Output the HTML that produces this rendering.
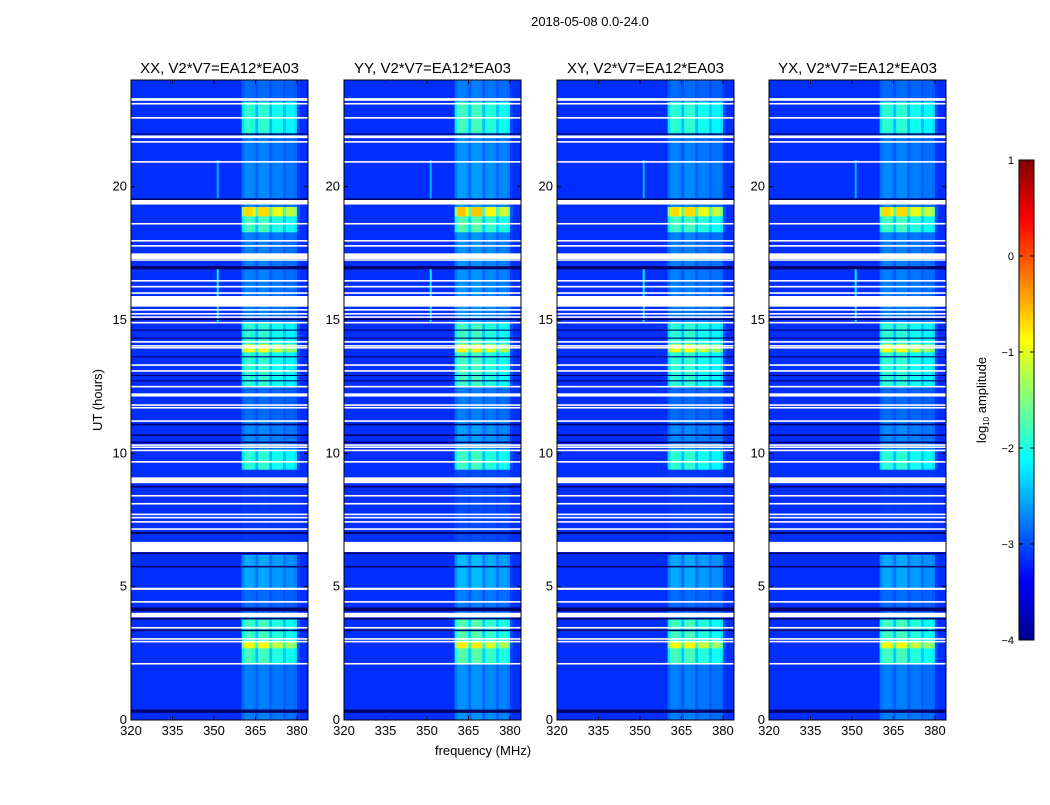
<!DOCTYPE html>
<html><head><meta charset="utf-8">
<style>
body{margin:0;background:#fff;}
svg text{font-family:"Liberation Sans",sans-serif;fill:#000;}
</style></head>
<body>
<svg id="fig" width="1050" height="800" xmlns="http://www.w3.org/2000/svg">
<rect width="1050" height="800" fill="#fff"/>
<text x="590" y="26" font-size="13" text-anchor="middle">2018-05-08 0.0-24.0</text>
<text transform="translate(102,400) rotate(-90)" font-size="13" text-anchor="middle">UT (hours)</text>
<text x="483" y="755" font-size="13" text-anchor="middle">frequency (MHz)</text>
<g id="panels"></g>
<defs>
<linearGradient id="jetgrad" x1="0" y1="1" x2="0" y2="0">
<stop offset="0" stop-color="#00008f"/><stop offset="0.125" stop-color="#0000ff"/>
<stop offset="0.375" stop-color="#00ffff"/><stop offset="0.625" stop-color="#ffff00"/>
<stop offset="0.875" stop-color="#ff0000"/><stop offset="1" stop-color="#800000"/>
</linearGradient>
</defs>
<g>
<rect x="1019" y="160" width="15" height="480" fill="url(#jetgrad)" stroke="#000" stroke-width="1"/>
<g id="cbticks"></g>
<text transform="translate(986,400) rotate(-90)" font-size="13" text-anchor="middle">log<tspan font-size="8" dy="3">10</tspan><tspan dy="-3"> amplitude</tspan></text>
</g>
</svg>
<script>
// ---- data ----
const panelTitles = ["XX, V2*V7=EA12*EA03","YY, V2*V7=EA12*EA03","XY, V2*V7=EA12*EA03","YX, V2*V7=EA12*EA03"];
const panelOffsets = [0, 0.1, 0, 0];
const xTicks = [320,335,350,365,380];
const yTicks = [0,5,10,15,20];
const cbTicks = [1,0,-1,-2,-3,-4];
const baseLevel = -3.15;
// band level segments: [startHour, endHour, log10 level]
const segStart = [0,2.1,2.7,2.95,3.8,4.9,6.2,9.4,10.1,11.2,12.5,13.8,14.1,14.9,18.3,18.9,19.25,21,22,23.2];
const segEnd   = [2.1,2.7,2.95,3.8,4.9,6.2,9.4,10.1,11.2,12.5,13.8,14.1,14.9,18.3,18.9,19.25,21,22,23.2,24];
const segLevel = [-2.75,-1.8,-0.9,-1.8,-2.85,-2.55,-3.1,-1.9,-2.7,-2.85,-1.9,-0.9,-1.9,-2.75,-1.8,-0.7,-2.7,-2.75,-1.9,-2.85];
// channel profile (1 MHz bins starting at 320)
const chanFreq = [];
for (let f=320; f<384; f++) chanFreq.push(f);
const chanProfile = [0,0,0,0,0,0,0,0,0,0, 0,0,0,0,0,0,0,0,0,0, 0,0,0,0,0,0,0,0,0,0, 0,0,0,0,0,0,0,0,0,0,
  0.7,1,1,1,0.9,0.55,1,1,1,1, 0.55,0.85,0.9,0.9,0.85,0.55,0.8,0.8,0.8,0.7, 0.1,0,0,0];
// white flagged rows [start,end]
const whiteStart = [23.22,23.08,22.55,21.82,21.65,20.9,19.33,18.58,17.94,17.75,17.28,17.22,16.44,16.22,15.98,15.5,15.35,15.2,15.08,14.87,14.15,14.0,13.93,13.28,13.06,12.47,12.13,11.78,11.68,11.18,10.28,10.2,10.08,9.65,8.88,8.38,8.08,7.68,7.56,7.4,7.13,6.3,4.88,4.4,3.85,3.43,3.01,2.91,2.08];
const whiteEnd   = [23.32,23.14,22.61,21.92,21.71,20.96,19.5,18.64,18.0,17.81,17.5,17.27,16.5,16.28,16.04,15.9,15.41,15.26,15.14,14.93,14.21,14.06,13.99,13.34,13.12,12.53,12.25,11.84,11.74,11.24,10.34,10.26,10.14,9.71,9.1,8.44,8.14,7.74,7.62,7.46,7.19,6.68,4.96,4.46,4.02,3.49,3.07,2.97,2.14];
// dark rows [start,end]
const darkStart = [21.95,19.5,16.9,15.0,14.6,14.3,13.6,12.9,12.7,11.05,10.65,10.38,8.72,6.97,6.22,5.72,4.08,3.77,3.33,0.27];
const darkEnd   = [22.0,19.56,17.02,15.06,14.64,14.34,13.64,12.94,12.74,11.11,10.71,10.44,8.78,7.05,6.28,5.78,4.22,3.83,3.39,0.39];
// narrow RFI line near 351 MHz
const rfiStart = [14.9,19.4];
const rfiEnd = [17.0,21.0];
const rfiLevel = [-2.2,-2.5];
const rfiFreq = 351;

// ---- drawing ----
const NS="http://www.w3.org/2000/svg";
const panelX=[131,344,557,769], PW=177, PT=80, PB=720;
const fMin=320, fMax=384, hMin=0, hMax=24;
function jet(v){
  let t=(v+4)/5; t=Math.max(0,Math.min(1,t));
  const c=x=>Math.round(255*Math.max(0,Math.min(1,x)));
  return `rgb(${c(1.5-Math.abs(4*t-3))},${c(1.5-Math.abs(4*t-2))},${c(1.5-Math.abs(4*t-1))})`;
}
function mk(tag,attrs,parent){const e=document.createElementNS(NS,tag);for(const k in attrs)e.setAttribute(k,attrs[k]);parent.appendChild(e);return e;}
const panels=document.getElementById('panels');
panelX.forEach((x0,p)=>{
  const xs=f=>x0+(f-fMin)/(fMax-fMin)*PW;
  const ys=h=>PB-(h-hMin)/(hMax-hMin)*(PB-PT);
  const g=mk('g',{},panels);
  
  
  const bg=mk('rect',{x:x0,y:PT,width:PW,height:PB-PT,fill:jet(baseLevel)},g);
  
  
  for(let s=0;s<segStart.length;s++){
    const lvl=segLevel[s]+panelOffsets[p];
    for(let c=0;c<chanFreq.length;c++){
      const pr=chanProfile[c]; if(pr<=0) continue;
      const v=baseLevel+(lvl-baseLevel)*pr; if(v<=baseLevel) continue;
      const r=mk('rect',{x:xs(chanFreq[c]).toFixed(2),y:ys(segEnd[s]).toFixed(2),width:(xs(chanFreq[c]+1)-xs(chanFreq[c])+0.3).toFixed(2),height:(ys(segStart[s])-ys(segEnd[s])+0.3).toFixed(2),fill:jet(v)},g);
      
      
    }
  }
  for(let i=0;i<rfiStart.length;i++){
    const r=mk('rect',{x:xs(rfiFreq),y:ys(rfiEnd[i]),width:2,height:ys(rfiStart[i])-ys(rfiEnd[i]),fill:jet(rfiLevel[i])},g);
    
    
  }
  for(let i=0;i<darkStart.length;i++){
    const r=mk('rect',{x:x0,y:ys(darkEnd[i]),width:PW,height:Math.max(1,ys(darkStart[i])-ys(darkEnd[i])),fill:'#00006a'},g);
    
    
  }
  for(let i=0;i<whiteStart.length;i++){
    const r=mk('rect',{x:x0,y:ys(whiteEnd[i]),width:PW,height:Math.max(1.2,ys(whiteStart[i])-ys(whiteEnd[i])),fill:'#fff'},g);
    
    
  }
  const fr=mk('rect',{x:x0,y:PT,width:PW,height:PB-PT,fill:'none',stroke:'#000','stroke-width':1},g);
  
  
  const t=mk('text',{x:x0+PW/2,y:PT-7,'font-size':15,'text-anchor':'middle'},g);
  t.textContent=panelTitles[p];
  
  
  xTicks.forEach(f=>{
    const tl=mk('text',{x:xs(f),y:PB+15,'font-size':13,'text-anchor':'middle'},g);
    tl.textContent=f;
    
    
    mk('line',{x1:xs(f),x2:xs(f),y1:PB,y2:PB-4,stroke:'#000'},g);
    mk('line',{x1:xs(f),x2:xs(f),y1:PT,y2:PT+4,stroke:'#000'},g);
  });
  yTicks.forEach(h=>{
    const tl=mk('text',{x:x0-4,y:ys(h)+4,'font-size':13,'text-anchor':'end'},g);
    tl.textContent=h;
    
    
    mk('line',{x1:x0,x2:x0+4,y1:ys(h),y2:ys(h),stroke:'#000'},g);
    mk('line',{x1:x0+PW,x2:x0+PW-4,y1:ys(h),y2:ys(h),stroke:'#000'},g);
  });
});
const cb=document.getElementById('cbticks');
cbTicks.forEach(v=>{
  const y=160+(1-v)/5*480;
  const tl=mk('text',{x:1014,y:y+4,'font-size':11,'text-anchor':'end'},cb);
  tl.textContent=(v<0?'\u2212'+(-v):String(v));
  
  
  mk('line',{x1:1019,x2:1023,y1:y,y2:y,stroke:'#000'},cb);
  mk('line',{x1:1034,x2:1030,y1:y,y2:y,stroke:'#000'},cb);
});
</script>
</body></html>
